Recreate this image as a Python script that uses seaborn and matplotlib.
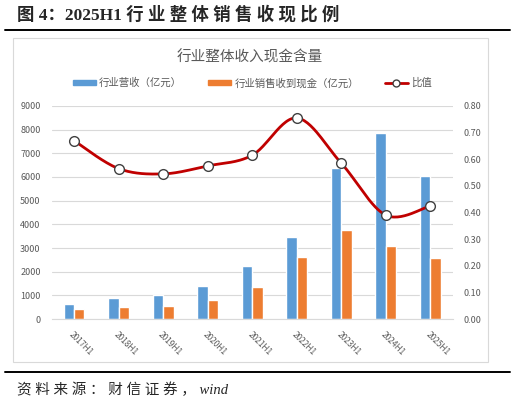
import numpy as np
import pandas as pd
import matplotlib
matplotlib.use('Agg')
import matplotlib.pyplot as plt
from matplotlib.patches import Patch, Rectangle
from matplotlib.lines import Line2D
import seaborn as sns

# 数据
periods = ['2017H1', '2018H1', '2019H1', '2020H1', '2021H1',
           '2022H1', '2023H1', '2024H1', '2025H1']
revenue = [640, 880, 1000, 1400, 2250, 3480, 6390, 7860, 6040]
cash = [425, 490, 550, 790, 1370, 2630, 3745, 3070, 2560]
ratio = [0.67, 0.565, 0.545, 0.575, 0.615, 0.755, 0.585, 0.39, 0.425]

series_names = ['行业营收（亿元）', '行业销售收到现金（亿元）']
ratio_name = '比值'
bar_colors = ['#5B9BD5', '#ED7D31']
line_color = '#C00000'
grey = '#595959'

sns.set_style('white')
plt.rcParams['font.family'] = ['Noto Sans CJK SC', 'DejaVu Sans']


def smooth(xs, ys, n=30):
    # Excel 风格的平滑线 (只影响线条外形, 标记点仍在原数据上)
    p = np.column_stack([xs, ys]).astype(float)
    pe = np.vstack([p[0], p, p[-1]])
    out = []
    t = np.linspace(0, 1, n)[:, None]
    for i in range(len(p) - 1):
        p0, p1, p2, p3 = pe[i], pe[i + 1], pe[i + 2], pe[i + 3]
        c1 = p1 + (p2 - p0) / 6
        c2 = p2 - (p3 - p1) / 6
        seg = (1 - t) ** 3 * p1 + 3 * (1 - t) ** 2 * t * c1 + 3 * (1 - t) * t ** 2 * c2 + t ** 3 * p2
        out.append(seg if i == 0 else seg[1:])
    return np.vstack(out)


df = pd.DataFrame({
    '期间': periods * 2,
    '系列': [series_names[0]] * len(periods) + [series_names[1]] * len(periods),
    '值': revenue + cash,
})

fig = plt.figure(figsize=(5.15, 4.05), dpi=100)
ax = fig.add_axes([0.1004, 0.2123, 0.7786, 0.526])

sns.barplot(data=df, x='期间', y='值', hue='系列', palette=bar_colors,
            width=0.47, gap=0, saturation=1, legend=False, ax=ax)
ax.set_xlim(-0.5, len(periods) - 0.5)
ax.set_ylim(0, 9000)
ax.set_yticks(range(0, 9001, 1000))
ax.set_xlabel('')
ax.set_ylabel('')
ax.yaxis.grid(True, color='#d9d9d9', lw=0.8)
ax.set_axisbelow(True)
ax.tick_params(length=0, labelsize=6.5, colors=grey, pad=8)
for lab in ax.get_xticklabels():
    lab.set_rotation(-45)
    lab.set_ha('left')
    lab.set_va('top')
    lab.set_rotation_mode('anchor')
    lab.set_fontsize(6)
for s in ['left', 'right', 'top']:
    ax.spines[s].set_visible(False)
ax.spines['bottom'].set_color('#d9d9d9')

ax2 = ax.twinx()
xpos = np.arange(len(periods))
curve = smooth(xpos, ratio)
ax2.plot(curve[:, 0], curve[:, 1], color=line_color, lw=2)
ax2.plot(xpos, ratio, 'o', mfc='white', mec='#404040', ms=7, mew=1)
ax2.set_ylim(0, 0.8)
ax2.set_yticks(np.arange(0, 0.81, 0.1))
ax2.yaxis.set_major_formatter(matplotlib.ticker.FormatStrFormatter('%.2f'))
ax2.tick_params(length=0, labelsize=6.5, colors=grey, pad=8)
for s in ax2.spines.values():
    s.set_visible(False)

# 标题与图例
fig.text(250 / 515, 1 - 57 / 405, '行业整体收入现金含量', ha='center', va='center',
         fontsize=10.5, color=grey)
handles = [Patch(color=bar_colors[0]), Patch(color=bar_colors[1]),
           Line2D([], [], color=line_color, lw=2, marker='o', mfc='white',
                  mec='#404040', ms=5)]
fig.legend(handles, series_names + [ratio_name], loc='center',
           bbox_to_anchor=(0.49, 1 - 83 / 405), ncol=3, frameon=False,
           fontsize=7.5, handlelength=2.2, handleheight=0.5,
           columnspacing=2.5, handletextpad=0.3, labelcolor=grey)

fig.add_artist(Rectangle((13 / 515, 1 - 362 / 405), 475 / 515, 324 / 405,
                         transform=fig.transFigure, fill=False,
                         edgecolor='#d9d9d9', lw=0.8))

# 报告标题、分隔线、资料来源
fig.text(17 / 515, 1 - 15 / 405, '图 4：2025H1 行 业 整 体 销 售 收 现 比 例',
         ha='left', va='center', fontsize=12.5, fontweight='bold',
         family=['Liberation Serif', 'Noto Sans CJK SC'])
for yy in [30, 372]:
    fig.add_artist(Line2D([5 / 515, 510 / 515], [1 - yy / 405] * 2,
                          color='black', lw=1.4, transform=fig.transFigure))
fig.text(17 / 515, 1 - 390 / 405, '资 料 来 源 ： 财 信 证 券 ， wind',
         ha='left', va='center', fontsize=10.5, style='italic',
         family=['Liberation Serif', 'Noto Sans CJK SC'])

fig.savefig('out.png', dpi=100)
